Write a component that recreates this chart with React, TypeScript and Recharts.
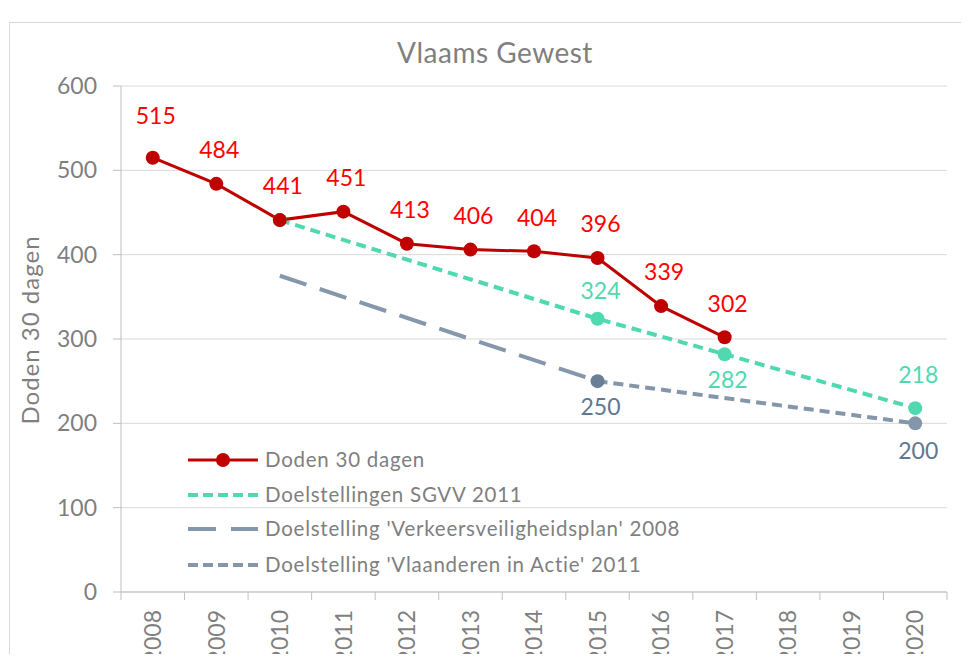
import React from 'react';
import { LineChart, Line, XAxis, YAxis, CartesianGrid, LabelList } from 'recharts';

// ---- data ----
const years = ['2008', '2009', '2010', '2011', '2012', '2013', '2014', '2015', '2016', '2017', '2018', '2019', '2020'];
const doden = [515, 484, 441, 451, 413, 406, 404, 396, 339, 302, null, null, null];
const sgvv = [null, null, 441, null, null, null, null, 324, null, 282, null, null, 218];
const vvp = [null, null, 375, null, null, null, null, 250, null, null, null, null, null];
const via = [null, null, null, null, null, null, null, 250, null, null, null, null, 200];
const yTicks = [0, 100, 200, 300, 400, 500, 600];

const title = 'Vlaams Gewest';
const yTitle = 'Doden 30 dagen';
const seriesNames = [
  'Doden 30 dagen',
  'Doelstellingen SGVV 2011',
  "Doelstelling 'Verkeersveiligheidsplan' 2008",
  "Doelstelling 'Vlaanderen in Actie' 2011",
];

const data = years.map((year, i) => ({
  year,
  doden: doden[i],
  sgvv: sgvv[i],
  vvp: vvp[i],
  via: via[i],
}));

// ---- layout / style ----
const W = 953;
const H = 654;
const M = { top: 78, right: 14, bottom: 0, left: 0 };
const Y_AXIS_W = 113;
const X_AXIS_H = 70;
const BAND = (W - M.left - Y_AXIS_W - M.right) / years.length;
const FONT = 'Lato, "Open Sans", sans-serif';
const AXIS = '#BFBFBF';
const GRID = '#D9D9D9';
const TEXT = '#7F7F7F';
const RED = '#C00000';
const RED_LABEL = '#FF0000';
const TEAL = '#50D9B0';
const GREY_LONG = '#8497AB';
const GREY_DARK = '#6A7F96';
const GREY_SHORT = '#8496A9';
const GREY_LABEL = '#5F7890';

const XTick = (props: any) => {
  const { x, y, payload, index } = props;
  const half = BAND / 2;
  const ty = y + 18;
  return (
    <g>
      {index === 0 && <line x1={x - half} x2={x - half} y1={y} y2={y + 8} stroke={AXIS} />}
      <line x1={x + half} x2={x + half} y1={y} y2={y + 8} stroke={AXIS} />
      <text
        x={x}
        y={ty}
        dy="0.36em"
        textAnchor="end"
        transform={`rotate(-90 ${x} ${ty})`}
        fill={TEXT}
        fontSize={23}
        fontFamily={FONT}
      >
        {payload.value}
      </text>
    </g>
  );
};

const makeLabel = (color: string, place: (i: number) => number | null) => (props: any) => {
  const { x, y, value, index } = props;
  if (value == null || y == null) return <g />;
  const off = place(index);
  if (off == null) return <g />;
  return (
    <text x={x + 3} y={y + off} dy="0.36em" textAnchor="middle" fill={color} fontSize={23} fontFamily={FONT}>
      {value}
    </text>
  );
};

const dodenLabel = makeLabel(RED_LABEL, (i) => (i === 0 ? -42 : -34));
const sgvvLabel = makeLabel(TEAL, (i) => (i === 7 ? -28 : i === 9 ? 26 : i === 12 ? -33 : null));
const vvpLabel = makeLabel(GREY_LABEL, (i) => (i === 7 ? 26 : null));
const viaLabel = makeLabel(GREY_LABEL, (i) => (i === 12 ? 27 : null));

const makeDot = (color: string, show: (i: number) => boolean) => (props: any) => {
  const { cx, cy, index, value } = props;
  if (value == null || cy == null || !show(index)) return <g key={`d-${index}`} />;
  return <circle key={`d-${index}`} cx={cx} cy={cy} r={7} fill={color} stroke="none" />;
};

const vvpDot = makeDot(GREY_DARK, (i) => i === 7);
const viaDot = makeDot(GREY_SHORT, (i) => i === 12);
const sgvvDot = makeDot(TEAL, () => true);
const dodenDot = makeDot(RED, () => true);

const LegendOverlay = () => {
  const x0 = 180;
  const rows = [452, 487, 521, 557];
  const styles = [
    { stroke: RED, width: 3, dash: undefined as string | undefined, dot: true },
    { stroke: TEAL, width: 4, dash: '10 5', dot: false },
    { stroke: GREY_LONG, width: 4, dash: '28 15', dot: false },
    { stroke: GREY_SHORT, width: 4, dash: '10 5', dot: false },
  ];
  return (
    <g>
      {seriesNames.map((name, i) => (
        <g key={name}>
          <line
            x1={x0}
            x2={x0 + 70}
            y1={rows[i]}
            y2={rows[i]}
            stroke={styles[i].stroke}
            strokeWidth={styles[i].width}
            strokeDasharray={styles[i].dash}
          />
          {styles[i].dot && <circle cx={x0 + 35} cy={rows[i]} r={7} fill={RED} />}
          <text
            x={x0 + 77}
            y={rows[i]}
            dy="0.36em"
            fill={TEXT}
            fontSize={20.5}
            letterSpacing={0.75}
            fontFamily={FONT}
          >
            {name}
          </text>
        </g>
      ))}
    </g>
  );
};

export default function App() {
  return (
    <div
      style={{
        position: 'relative',
        width: W,
        height: H,
        marginBottom: -8,
        overflow: 'hidden',
        background: '#fff',
      }}
    >
      <div
        style={{
          position: 'absolute',
          left: 1,
          top: 14,
          width: 2000,
          height: 2000,
          borderLeft: `1px solid ${GRID}`,
          borderTop: `1px solid ${GRID}`,
        }}
      />
      <div style={{ position: 'absolute', left: 0, top: 0 }}>
        <LineChart width={W} height={H} data={data} margin={M}>
          <CartesianGrid vertical={false} stroke={GRID} strokeWidth={1} />
          <XAxis
            dataKey="year"
            interval={0}
            height={X_AXIS_H}
            padding={{ left: BAND / 2, right: BAND / 2 }}
            axisLine={{ stroke: AXIS }}
            tickLine={false}
            tickSize={0}
            tickMargin={0}
            tick={<XTick />}
          />
          <YAxis
            width={Y_AXIS_W}
            domain={[0, 600]}
            ticks={yTicks}
            interval={0}
            axisLine={{ stroke: AXIS }}
            tickLine={{ stroke: AXIS }}
            tickSize={8}
            tickMargin={16}
            tick={{ fill: TEXT, fontSize: 23, fontFamily: FONT }}
            label={{
              value: yTitle,
              angle: -90,
              position: 'insideLeft',
              offset: 0,
              content: (p: any) => {
                const vb = p.viewBox || {};
                const cx = 22;
                const cy = (vb.y ?? 0) + (vb.height ?? 0) / 2 - 9;
                return (
                  <text
                    x={cx}
                    y={cy}
                    dy="0.36em"
                    textAnchor="middle"
                    transform={`rotate(-90 ${cx} ${cy})`}
                    fill={TEXT}
                    fontSize={24}
                    letterSpacing={1}
                    fontFamily={FONT}
                  >
                    {yTitle}
                  </text>
                );
              },
            }}
          />
          <Line
            dataKey="vvp"
            stroke={GREY_LONG}
            strokeWidth={4}
            strokeDasharray="28 14"
            connectNulls
            dot={vvpDot}
            activeDot={false}
            isAnimationActive={false}
          >
            <LabelList dataKey="vvp" content={vvpLabel} />
          </Line>
          <Line
            dataKey="via"
            stroke={GREY_SHORT}
            strokeWidth={4}
            strokeDasharray="10 6"
            connectNulls
            dot={viaDot}
            activeDot={false}
            isAnimationActive={false}
          >
            <LabelList dataKey="via" content={viaLabel} />
          </Line>
          <Line
            dataKey="sgvv"
            stroke={TEAL}
            strokeWidth={4}
            strokeDasharray="10 6"
            connectNulls
            dot={sgvvDot}
            activeDot={false}
            isAnimationActive={false}
          >
            <LabelList dataKey="sgvv" content={sgvvLabel} />
          </Line>
          <Line
            dataKey="doden"
            stroke={RED}
            strokeWidth={3}
            dot={dodenDot}
            activeDot={false}
            isAnimationActive={false}
          >
            <LabelList dataKey="doden" content={dodenLabel} />
          </Line>
        </LineChart>
      </div>
      <svg
        width={W}
        height={H}
        style={{ position: 'absolute', left: 0, top: 0, pointerEvents: 'none' }}
      >
        <text x={487} y={55} textAnchor="middle" fill={TEXT} fontSize={28} letterSpacing={0.5} fontFamily={FONT}>
          {title}
        </text>
        <LegendOverlay />
      </svg>
    </div>
  );
}
